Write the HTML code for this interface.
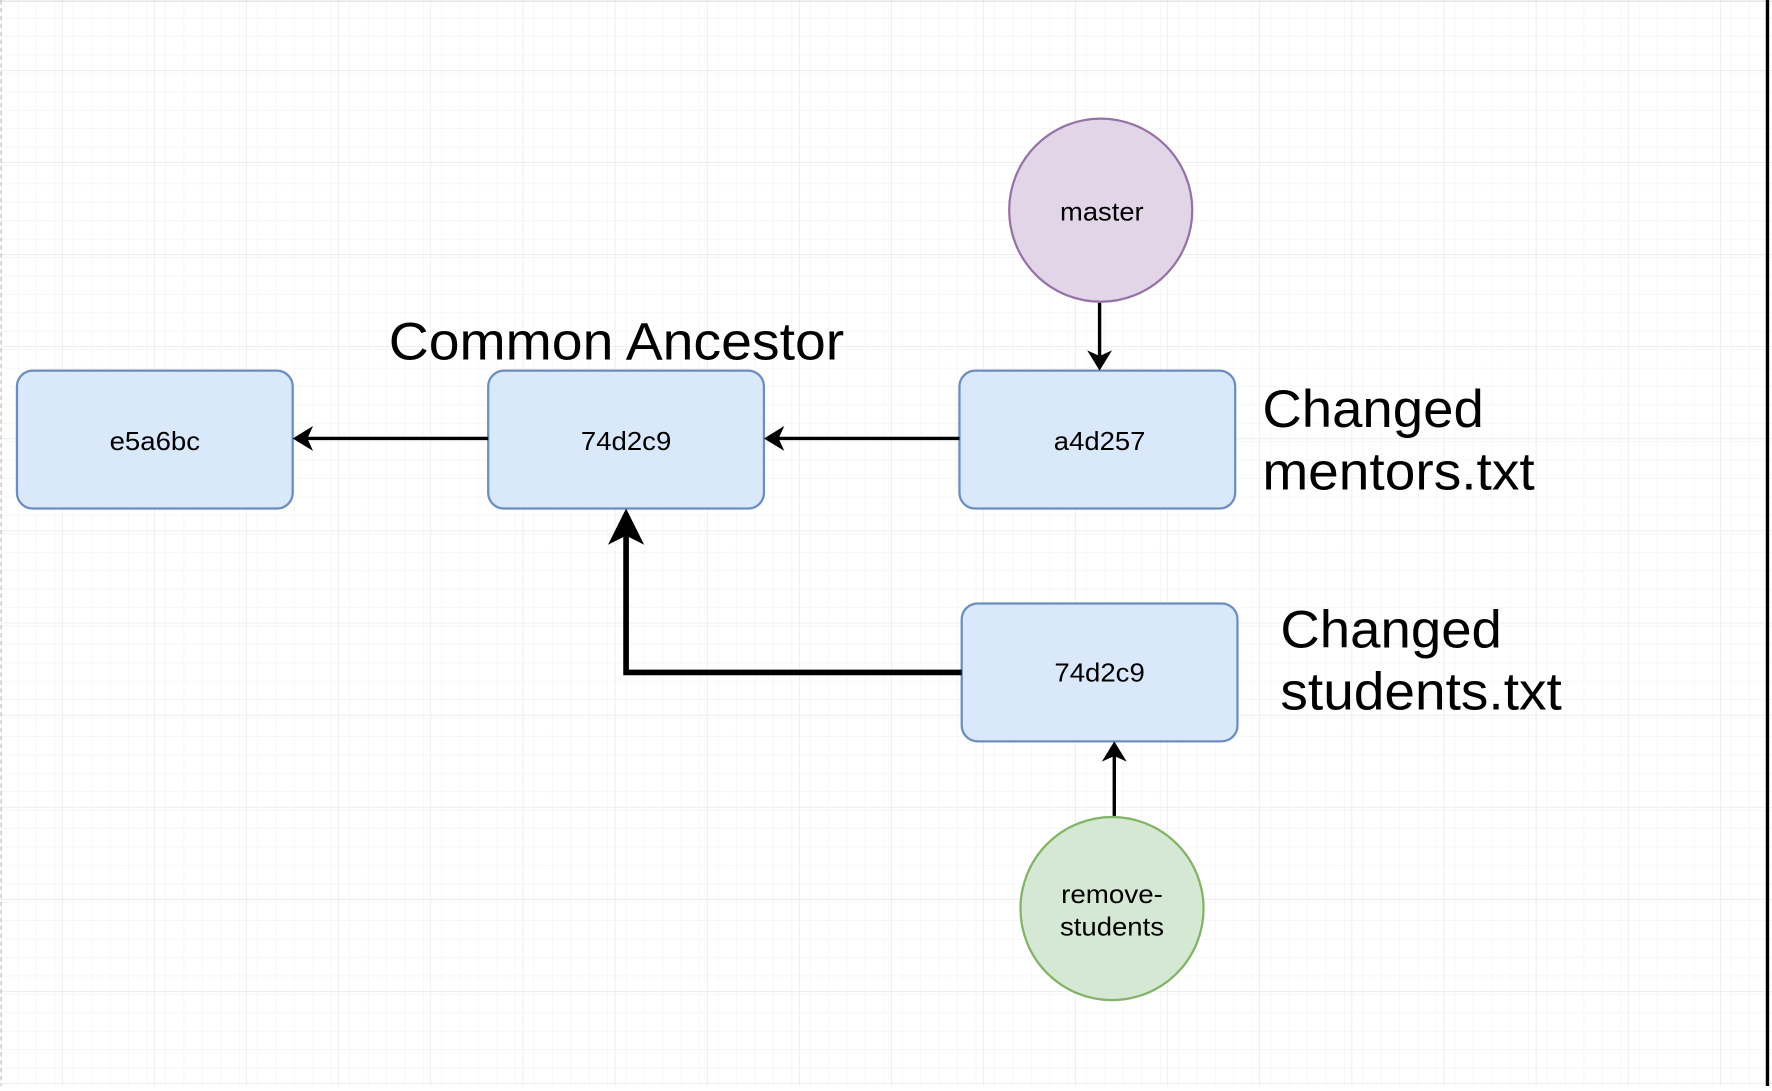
<!DOCTYPE html>
<html><head><style>html,body{margin:0;padding:0;background:#fff;overflow:hidden}</style></head>
<body>
<svg width="1772" height="1086" viewBox="0 0 1568 961" preserveAspectRatio="none" xmlns="http://www.w3.org/2000/svg" font-family="Liberation Sans, sans-serif">
<defs>
<pattern id="minor" width="16.3" height="16.3" patternUnits="userSpaceOnUse" x="0" y="0">
<path d="M16.3 0V16.3M0 16.3H16.3" stroke="#f1f1f1" stroke-width="1" fill="none"/>
</pattern>
<pattern id="major" width="81.5" height="81.5" patternUnits="userSpaceOnUse" x="55" y="62">
<path d="M0 0V81.5M0 0H81.5" stroke="#e2e2e2" stroke-width="1" fill="none"/>
</pattern>
</defs>
<rect width="1568" height="961" fill="#fff"/>
<rect width="1568" height="961" fill="url(#minor)"/>
<rect width="1568" height="961" fill="url(#major)"/>
<line x1="0" y1="1" x2="1568" y2="1" stroke="#ddd"/>
<line x1="1" y1="0" x2="1" y2="961" stroke="#bbb" stroke-dasharray="4,3"/>
<line x1="1564" y1="0" x2="1564" y2="961" stroke="#000" stroke-width="3"/>

<g fill="#dae8fc" stroke="#6c8ebf" stroke-width="2">
<rect x="15" y="328" width="244" height="122" rx="14"/>
<rect x="432" y="328" width="244" height="122" rx="14"/>
<rect x="849" y="328" width="244" height="122" rx="14"/>
<rect x="851" y="534" width="244" height="122" rx="14"/>
</g>
<circle cx="974" cy="186" r="81" fill="#e1d5e7" stroke="#9673a6" stroke-width="2"/>
<circle cx="984" cy="804" r="81" fill="#d5e8d4" stroke="#82b366" stroke-width="2"/>

<g stroke="#000" stroke-width="3" fill="none">
<line x1="973" y1="268" x2="973" y2="318"/>
<line x1="849" y1="388" x2="686" y2="388"/>
<line x1="432" y1="388" x2="269" y2="388"/>
<line x1="986" y1="722" x2="986" y2="668"/>
<polyline points="851,595 554,595 554,470" stroke-width="5"/>
</g>
<g fill="#000">
<polygon points="973,328 962,310 973,315 984,310"/>
<polygon points="676,388 694,377 689,388 694,399"/>
<polygon points="259,388 277,377 272,388 277,399"/>
<polygon points="986,656 975,674 986,669 997,674"/>
<polygon points="554,450 538,482 554,474 570,482"/>
</g>

<g font-size="23" text-anchor="middle" fill="#000">
<text x="137" y="398" textLength="80" lengthAdjust="spacingAndGlyphs">e5a6bc</text>
<text x="554" y="398" textLength="80" lengthAdjust="spacingAndGlyphs">74d2c9</text>
<text x="973" y="398" textLength="81" lengthAdjust="spacingAndGlyphs">a4d257</text>
<text x="973" y="603" textLength="80" lengthAdjust="spacingAndGlyphs">74d2c9</text>
<text x="975" y="195" textLength="74" lengthAdjust="spacingAndGlyphs">master</text>
<text x="984" y="799" textLength="90" lengthAdjust="spacingAndGlyphs">remove-</text>
<text x="984" y="828" textLength="92" lengthAdjust="spacingAndGlyphs">students</text>
</g>
<g font-size="47" fill="#000" lengthAdjust="spacingAndGlyphs">
<text x="344" y="318" textLength="403" lengthAdjust="spacingAndGlyphs">Common Ancestor</text>
<text x="1117" y="378" textLength="196" lengthAdjust="spacingAndGlyphs">Changed</text>
<text x="1117" y="433" textLength="241" lengthAdjust="spacingAndGlyphs">mentors.txt</text>
<text x="1133" y="573" textLength="196" lengthAdjust="spacingAndGlyphs">Changed</text>
<text x="1133" y="628" textLength="249" lengthAdjust="spacingAndGlyphs">students.txt</text>
</g>
</svg>
</body></html>
